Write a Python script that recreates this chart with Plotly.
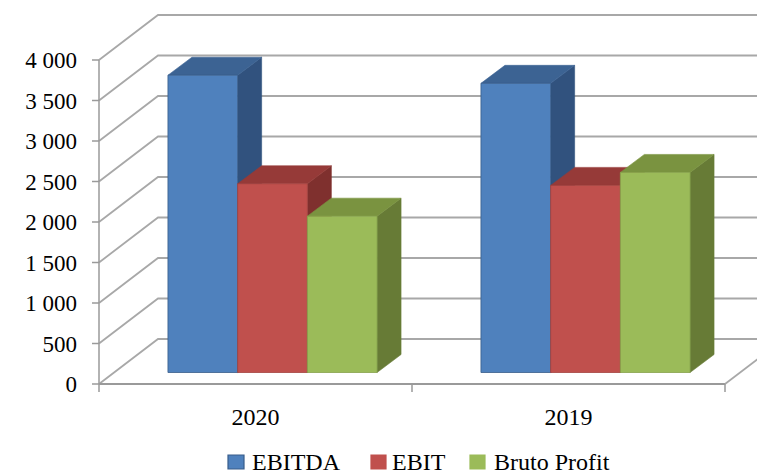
import plotly.graph_objects as go

# ---------------- data ----------------
categories = ["2020", "2019"]
series_names = ["EBITDA", "EBIT", "Bruto Profit"]
ebitda = [3670, 3570]
ebit = [2330, 2310]
bruto_profit = [1930, 2470]
y_tick_values = [0, 500, 1000, 1500, 2000, 2500, 3000, 3500, 4000]
y_tick_labels = ["0", "500", "1\u00a0000", "1\u00a0500", "2\u00a0000",
                 "2\u00a0500", "3\u00a0000", "3\u00a0500", "4\u00a0000"]

series_values = [ebitda, ebit, bruto_profit]
front_colors = ["#4F81BD", "#C0504D", "#9BBB59"]
top_colors = ["#3C6393", "#963A38", "#7A9340"]
side_colors = ["#31527E", "#7F302E", "#677B36"]
edge_colors = ["#385D8A", "#A3423F", "#86A24B"]

# ---------------- geometry (oblique 3-D projection) ----------------
# the page body adds an 8px margin, so the figure is drawn 8px smaller
OFF = 8
W, H = 765 - OFF, 474 - OFF
ML, MR, MT, MB = 90 - OFF, 0, 0, 80
plot_w = W - ML - MR
plot_h = H - MT - MB
cat_px = 313.0                 # pixels per category
ppu = 324.0 / 4000.0           # pixels per value unit
xr0 = -0.5 - (99 - 90) / cat_px
xr1 = xr0 + plot_w / cat_px
zero_px_from_bottom = 10.0
yr0 = -zero_px_from_bottom / ppu
yr1 = yr0 + plot_h / ppu

wall_dx, wall_dy = 59 / cat_px, 45 / ppu
front_dx, front_dy = 17 / cat_px, 11.5 / ppu
depth_dx, depth_dy = 24 / cat_px, 18 / ppu
bar_w = 69.7 / cat_px

grid_color = "#A8A8A8"
axis_color = "#9A9A9A"
FONT = "'Liberation Serif', 'Times New Roman', Times, serif"

fig = go.Figure()

def line(xs, ys, color, width):
    fig.add_trace(go.Scatter(x=xs, y=ys, mode="lines",
                             line=dict(color=color, width=width),
                             hoverinfo="skip", showlegend=False))

def poly(xs, ys, fill, edge, width):
    fig.add_trace(go.Scatter(x=xs + [xs[0]], y=ys + [ys[0]], mode="lines",
                             fill="toself", fillcolor=fill,
                             line=dict(color=edge, width=width),
                             hoverinfo="skip", showlegend=False))

# walls: left-wall diagonals + back-wall horizontals
for v in y_tick_values:
    line([-0.5, -0.5 + wall_dx, xr1 + 1], [v, v + wall_dy, v + wall_dy], grid_color, 1.8)

# floor
line([-0.5, len(categories) - 0.5], [0, 0], axis_color, 1.8)
line([len(categories) - 0.5, len(categories) - 0.5 + wall_dx], [0, wall_dy], grid_color, 1.8)

# value axis line and ticks
line([-0.5, -0.5], [0, max(y_tick_values)], axis_color, 1.5)
for v in y_tick_values:
    line([-0.5 - 7 / cat_px, -0.5], [v, v], axis_color, 1.5)
# category boundary ticks
for b in range(len(categories) + 1):
    line([b - 0.5, b - 0.5], [0, -8 / ppu], axis_color, 1.5)

# bars
for c in range(len(categories)):
    for s in range(len(series_names)):
        val = series_values[s][c]
        x0 = c + front_dx - 1.5 * bar_w + s * bar_w
        x1 = x0 + bar_w
        b0 = front_dy
        t0 = front_dy + val
        # side face
        poly([x1, x1, x1 + depth_dx, x1 + depth_dx],
             [b0, t0, t0 + depth_dy, b0 + depth_dy],
             side_colors[s], side_colors[s], 0.6)
        # top face
        poly([x0, x1, x1 + depth_dx, x0 + depth_dx],
             [t0, t0, t0 + depth_dy, t0 + depth_dy],
             top_colors[s], top_colors[s], 0.6)
        # front face
        poly([x0, x1, x1, x0], [b0, b0, t0, t0],
             front_colors[s], edge_colors[s], 0.8)

# legend (manual, bottom centre) - positions in reference pixels
legend_sq = [(228, 244), (371, 386), (470, 485)]
legend_tx = [250, 390, 492]
sq_top, sq_bot, text_y = 455, 469, 462
def px_x(px):
    return (px - OFF - ML) / plot_w
def px_y(py):
    return (H - MB - (py - OFF)) / plot_h
for s, name in enumerate(series_names):
    fig.add_shape(type="rect", xref="paper", yref="paper",
                  x0=px_x(legend_sq[s][0]), x1=px_x(legend_sq[s][1]),
                  y0=px_y(sq_bot), y1=px_y(sq_top),
                  fillcolor=front_colors[s],
                  line=dict(color=edge_colors[s] if s == 0 else front_colors[s], width=1.2))
    fig.add_annotation(xref="paper", yref="paper", x=px_x(legend_tx[s]), y=px_y(text_y),
                       text=name, showarrow=False, xanchor="left", yanchor="middle",
                       font=dict(family=FONT, size=24, color="#000000"))

fig.update_layout(
    width=W, height=H,
    margin=dict(l=ML, r=MR, t=MT, b=MB, autoexpand=False),
    paper_bgcolor="white", plot_bgcolor="white",
    showlegend=False,
    font=dict(family=FONT),
    xaxis=dict(range=[xr0, xr1], showgrid=False, zeroline=False, showline=False,
               tickmode="array", tickvals=list(range(len(categories))), ticktext=categories,
               ticks="", ticklabelstandoff=6,
               tickfont=dict(family=FONT, size=24, color="#000000"), fixedrange=True),
    yaxis=dict(range=[yr0, yr1], showgrid=False, zeroline=False, showline=False,
               tickmode="array", tickvals=y_tick_values, ticktext=y_tick_labels,
               ticks="", ticklabelstandoff=12,
               tickfont=dict(family=FONT, size=23, color="#000000"), fixedrange=True),
)

fig.write_html("out.html")
